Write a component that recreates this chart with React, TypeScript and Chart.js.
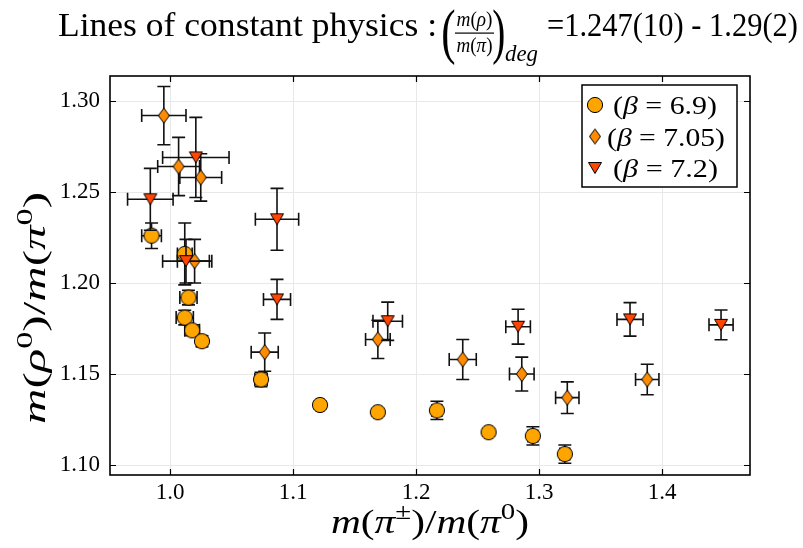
import React, { useEffect, useRef } from 'react';
import { Chart, registerables } from 'chart.js';

Chart.register(...registerables);

// ---------- data ----------
const seriesLabels = ['(β = 6.9)', '(β = 7.05)', '(β = 7.2)'];

// beta = 6.9 (circles)
const x69 = [0.985, 1.012, 1.015, 1.012, 1.018, 1.026, 1.074, 1.122, 1.169, 1.217, 1.259, 1.295, 1.321];
const y69 = [1.226, 1.216, 1.192, 1.181, 1.174, 1.168, 1.147, 1.133, 1.129, 1.130, 1.118, 1.116, 1.106];
const xe69 = [0.008, 0.006, 0.007, 0.007, 0.006, 0.004, 0.005, 0.003, 0.003, 0.004, 0.003, 0.004, 0.004];
const ye69 = [0.007, 0.017, 0.004, 0.004, 0.003, 0.003, 0.004, 0.002, 0.002, 0.005, 0.002, 0.005, 0.005];

// beta = 7.05 (diamonds)
const x705 = [0.995, 1.007, 1.025, 1.020, 1.077, 1.169, 1.238, 1.286, 1.323, 1.388];
const y705 = [1.292, 1.264, 1.258, 1.212, 1.162, 1.169, 1.158, 1.150, 1.137, 1.147];
const xe705 = [0.018, 0.017, 0.017, 0.014, 0.011, 0.010, 0.011, 0.010, 0.0095, 0.0095];
const ye705 = [0.016, 0.016, 0.013, 0.012, 0.0105, 0.0105, 0.011, 0.0093, 0.0087, 0.0084];

// beta = 7.2 (down triangles)
const x72 = [0.984, 1.021, 1.087, 1.013, 1.087, 1.177, 1.283, 1.374, 1.448];
const y72 = [1.246, 1.269, 1.235, 1.212, 1.191, 1.179, 1.176, 1.180, 1.177];
const xe72 = [0.0185, 0.027, 0.0176, 0.019, 0.011, 0.012, 0.010, 0.0106, 0.0098];
const ye72 = [0.017, 0.022, 0.017, 0.012, 0.011, 0.0105, 0.0096, 0.0092, 0.0082];

const xTicks = [1.0, 1.1, 1.2, 1.3, 1.4];
const yTicks = [1.10, 1.15, 1.20, 1.25, 1.30];
const xLimits = [0.95122, 1.47154];
const yLimits = [1.09451, 1.31374];

// ---------- text ----------
type Seg = { t: string; it?: boolean; sup?: boolean };
const titleLead = 'Lines of constant physics :';
const titleNum: Seg[] = [{ t: 'm', it: true }, { t: '(' }, { t: 'ρ', it: true }, { t: ')' }];
const titleDen: Seg[] = [{ t: 'm', it: true }, { t: '(' }, { t: 'π', it: true }, { t: ')' }];
const titleSub = 'deg';
const titleTail = '=1.247(10) - 1.29(2)';
const xLabel: Seg[] = [
  { t: 'm', it: true }, { t: '(' }, { t: 'π', it: true }, { t: '±', sup: true }, { t: ')' },
  { t: '/' }, { t: 'm', it: true }, { t: '(' }, { t: 'π', it: true }, { t: '0', sup: true }, { t: ')' },
];
const yLabel: Seg[] = [
  { t: 'm', it: true }, { t: '(' }, { t: 'ρ', it: true }, { t: '0', sup: true }, { t: ')' },
  { t: '/' }, { t: 'm', it: true }, { t: '(' }, { t: 'π', it: true }, { t: '0', sup: true }, { t: ')' },
];

const FONT = '"Liberation Serif", "DejaVu Serif", serif';
const COLORS = ['#FFA500', '#FF8C00', '#FF4500'];

function setFont(ctx: CanvasRenderingContext2D, size: number, it?: boolean) {
  ctx.font = `${it ? 'italic ' : ''}${size}px ${FONT}`;
}
function richWidth(ctx: CanvasRenderingContext2D, segs: Seg[], size: number) {
  let w = 0;
  for (const s of segs) {
    setFont(ctx, s.sup ? size * 0.7 : size, s.it);
    w += ctx.measureText(s.t).width;
  }
  return w;
}
function drawRich(ctx: CanvasRenderingContext2D, segs: Seg[], x: number, y: number, size: number, targetW?: number) {
  const w = richWidth(ctx, segs, size);
  const sx = targetW ? targetW / w : 1;
  ctx.save();
  ctx.textAlign = 'left';
  ctx.textBaseline = 'alphabetic';
  ctx.fillStyle = '#000';
  ctx.translate(x, y);
  ctx.scale(sx, 1);
  let cx = 0;
  for (const s of segs) {
    const sz = s.sup ? size * 0.7 : size;
    setFont(ctx, sz, s.it);
    ctx.fillText(s.t, cx, s.sup ? -size * 0.4 : 0);
    cx += ctx.measureText(s.t).width;
  }
  ctx.restore();
}
function glyphInBox(ctx: CanvasRenderingContext2D, ch: string, size: number, x0: number, y0: number, x1: number, y1: number) {
  ctx.save();
  setFont(ctx, size, false);
  ctx.textAlign = 'left';
  ctx.textBaseline = 'alphabetic';
  ctx.fillStyle = '#000';
  const m = ctx.measureText(ch);
  const gw = m.actualBoundingBoxLeft + m.actualBoundingBoxRight;
  const gh = m.actualBoundingBoxAscent + m.actualBoundingBoxDescent;
  ctx.translate(x0, y0);
  ctx.scale((x1 - x0) / gw, (y1 - y0) / gh);
  ctx.fillText(ch, m.actualBoundingBoxLeft, m.actualBoundingBoxAscent);
  ctx.restore();
}
function labelSegs(label: string): Seg[] {
  const out: Seg[] = [];
  for (const part of label.split(/(β)/)) {
    if (!part) continue;
    out.push(part === 'β' ? { t: part, it: true } : { t: part });
  }
  return out;
}

function makeMarker(kind: 'circle' | 'diamond' | 'tri', fill: string): HTMLCanvasElement {
  const c = document.createElement('canvas');
  const ctx = c.getContext('2d')!;
  if (kind === 'circle') {
    c.width = 18; c.height = 18;
    ctx.beginPath(); ctx.arc(9, 9, 7.6, 0, Math.PI * 2);
  } else if (kind === 'diamond') {
    c.width = 14; c.height = 18;
    ctx.beginPath(); ctx.moveTo(7, 1.5); ctx.lineTo(12.5, 9); ctx.lineTo(7, 16.5); ctx.lineTo(1.5, 9); ctx.closePath();
  } else {
    c.width = 16; c.height = 14;
    ctx.beginPath(); ctx.moveTo(1.5, 1.5); ctx.lineTo(14.5, 1.5); ctx.lineTo(8, 12.5); ctx.closePath();
  }
  ctx.fillStyle = fill; ctx.fill();
  ctx.lineWidth = 1; ctx.strokeStyle = '#000'; ctx.stroke();
  return c;
}

const decorPlugin = {
  id: 'decor',
  beforeDatasetDraw(chart: any, args: any) {
    const ds = chart.data.datasets[args.index];
    const xs = chart.scales.x, ys = chart.scales.y;
    const ctx: CanvasRenderingContext2D = chart.ctx;
    ctx.save();
    ctx.strokeStyle = '#111';
    ctx.lineWidth = 1.6;
    const cap = 6.5;
    ds.data.forEach((p: any, j: number) => {
      const px = xs.getPixelForValue(p.x), py = ys.getPixelForValue(p.y);
      const xl = xs.getPixelForValue(p.x - ds.xErr[j]), xr = xs.getPixelForValue(p.x + ds.xErr[j]);
      const yt = ys.getPixelForValue(p.y + ds.yErr[j]), yb = ys.getPixelForValue(p.y - ds.yErr[j]);
      ctx.beginPath();
      ctx.moveTo(xl, py); ctx.lineTo(xr, py);
      ctx.moveTo(px, yt); ctx.lineTo(px, yb);
      ctx.moveTo(xl, py - cap); ctx.lineTo(xl, py + cap);
      ctx.moveTo(xr, py - cap); ctx.lineTo(xr, py + cap);
      ctx.moveTo(px - cap, yt); ctx.lineTo(px + cap, yt);
      ctx.moveTo(px - cap, yb); ctx.lineTo(px + cap, yb);
      ctx.stroke();
    });
    ctx.restore();
  },
  afterDraw(chart: any) {
    const ctx: CanvasRenderingContext2D = chart.ctx;
    const a = chart.chartArea;
    const xs = chart.scales.x, ys = chart.scales.y;
    ctx.save();
    // inward ticks
    ctx.strokeStyle = '#000';
    ctx.lineWidth = 1.2;
    ctx.beginPath();
    const tl = 6;
    xTicks.forEach((v) => {
      const px = Math.round(xs.getPixelForValue(v)) + 0.5;
      ctx.moveTo(px, a.bottom); ctx.lineTo(px, a.bottom - tl);
      ctx.moveTo(px, a.top); ctx.lineTo(px, a.top + tl);
    });
    yTicks.forEach((v) => {
      const py = Math.round(ys.getPixelForValue(v)) + 0.5;
      ctx.moveTo(a.left, py); ctx.lineTo(a.left + tl, py);
      ctx.moveTo(a.right, py); ctx.lineTo(a.right - tl, py);
    });
    ctx.stroke();
    // frame
    ctx.lineWidth = 1.6;
    ctx.strokeRect(a.left, a.top, a.right - a.left, a.bottom - a.top);

    // legend
    const lx0 = 582, ly0 = 85, lx1 = 737, ly1 = 187;
    ctx.fillStyle = '#fff';
    ctx.fillRect(lx0, ly0, lx1 - lx0, ly1 - ly0);
    ctx.lineWidth = 1.5;
    ctx.strokeStyle = '#000';
    ctx.strokeRect(lx0, ly0, lx1 - lx0, ly1 - ly0);
    const rowMarkY = [105, 136.5, 168];
    const rowBase = [114, 145.5, 177];
    const rowTextX = [613, 607, 613];
    const rowTextW = [104, 118, 105];
    chart.data.datasets.forEach((ds: any, i: number) => {
      const img: HTMLCanvasElement = ds.pointStyle;
      ctx.drawImage(img, 595 - img.width / 2, rowMarkY[i] - img.height / 2);
      drawRich(ctx, labelSegs(ds.label), rowTextX[i], rowBase[i], 26, rowTextW[i]);
    });

    // title
    drawRich(ctx, [{ t: titleLead }], 58, 36, 33, 379);
    glyphInBox(ctx, '(', 50, 443, 8, 455, 66);
    glyphInBox(ctx, ')', 50, 493, 8, 504, 66);
    drawRich(ctx, titleNum, 456.5, 25.5, 21, 36);
    drawRich(ctx, titleDen, 456.5, 51.5, 21, 36);
    ctx.fillStyle = '#000';
    ctx.fillRect(455, 32.5, 39, 1.2);
    drawRich(ctx, [{ t: titleSub, it: true }], 505, 61, 23, 33);
    drawRich(ctx, [{ t: titleTail }], 547, 36, 33, 251);

    // axis titles
    const xw = 198;
    drawRich(ctx, xLabel, (a.left + a.right) / 2 - xw / 2, 533, 34, xw);
    ctx.save();
    ctx.translate(45, 308);
    ctx.rotate(-Math.PI / 2);
    const yw = 232;
    drawRich(ctx, yLabel, -yw / 2, 0, 32, yw);
    ctx.restore();
    ctx.restore();
  },
};

export default function App() {
  const ref = useRef<HTMLCanvasElement | null>(null);
  useEffect(() => {
    const canvas = ref.current!;
    const markers = [makeMarker('circle', COLORS[0]), makeMarker('diamond', COLORS[1]), makeMarker('tri', COLORS[2])];
    const mk = (xs: number[], ys: number[], xe: number[], ye: number[], i: number) => ({
      label: seriesLabels[i],
      data: xs.map((x, j) => ({ x, y: ys[j] })),
      xErr: xe,
      yErr: ye,
      pointStyle: markers[i],
      pointRadius: 8,
      pointHoverRadius: 8,
      backgroundColor: COLORS[i],
      borderColor: '#000',
      showLine: false,
      order: 3 - i,
    });
    const chart = new Chart(canvas, {
      type: 'scatter',
      data: {
        datasets: [
          mk(x69, y69, xe69, ye69, 0),
          mk(x705, y705, xe705, ye705, 1),
          mk(x72, y72, xe72, ye72, 2),
        ] as any,
      },
      options: {
        animation: false,
        responsive: false,
        devicePixelRatio: 1,
        events: [],
        layout: { padding: { top: 76, right: 53, left: 0, bottom: 0 } },
        plugins: { legend: { display: false }, title: { display: false }, tooltip: { enabled: false } },
        scales: {
          x: {
            type: 'linear',
            min: xLimits[0],
            max: xLimits[1],
            afterFit: (s: any) => { s.height = 73; },
            afterBuildTicks: (s: any) => { s.ticks = xTicks.map((v) => ({ value: v })); },
            grid: { color: '#e8e8e8', lineWidth: 1, drawTicks: false },
            border: { display: false },
            ticks: {
              color: '#000',
              font: { family: FONT, size: 23 },
              padding: 4,
              autoSkip: false,
              maxRotation: 0,
              callback: (v: any) => Number(v).toFixed(1),
            },
          },
          y: {
            type: 'linear',
            min: yLimits[0],
            max: yLimits[1],
            afterFit: (s: any) => { s.width = 110; },
            afterBuildTicks: (s: any) => { s.ticks = yTicks.map((v) => ({ value: v })); },
            grid: { color: '#e8e8e8', lineWidth: 1, drawTicks: false },
            border: { display: false },
            ticks: {
              color: '#000',
              font: { family: FONT, size: 23 },
              padding: 10,
              autoSkip: false,
              callback: (v: any) => Number(v).toFixed(2),
            },
          },
        },
      } as any,
      plugins: [decorPlugin],
    });
    return () => chart.destroy();
  }, []);
  return (
    <div style={{ position: 'absolute', left: 0, top: 0, width: 803, height: 548, background: '#fff' }}>
      <canvas ref={ref} width={803} height={548} style={{ display: 'block', width: 803, height: 548 }} />
    </div>
  );
}
